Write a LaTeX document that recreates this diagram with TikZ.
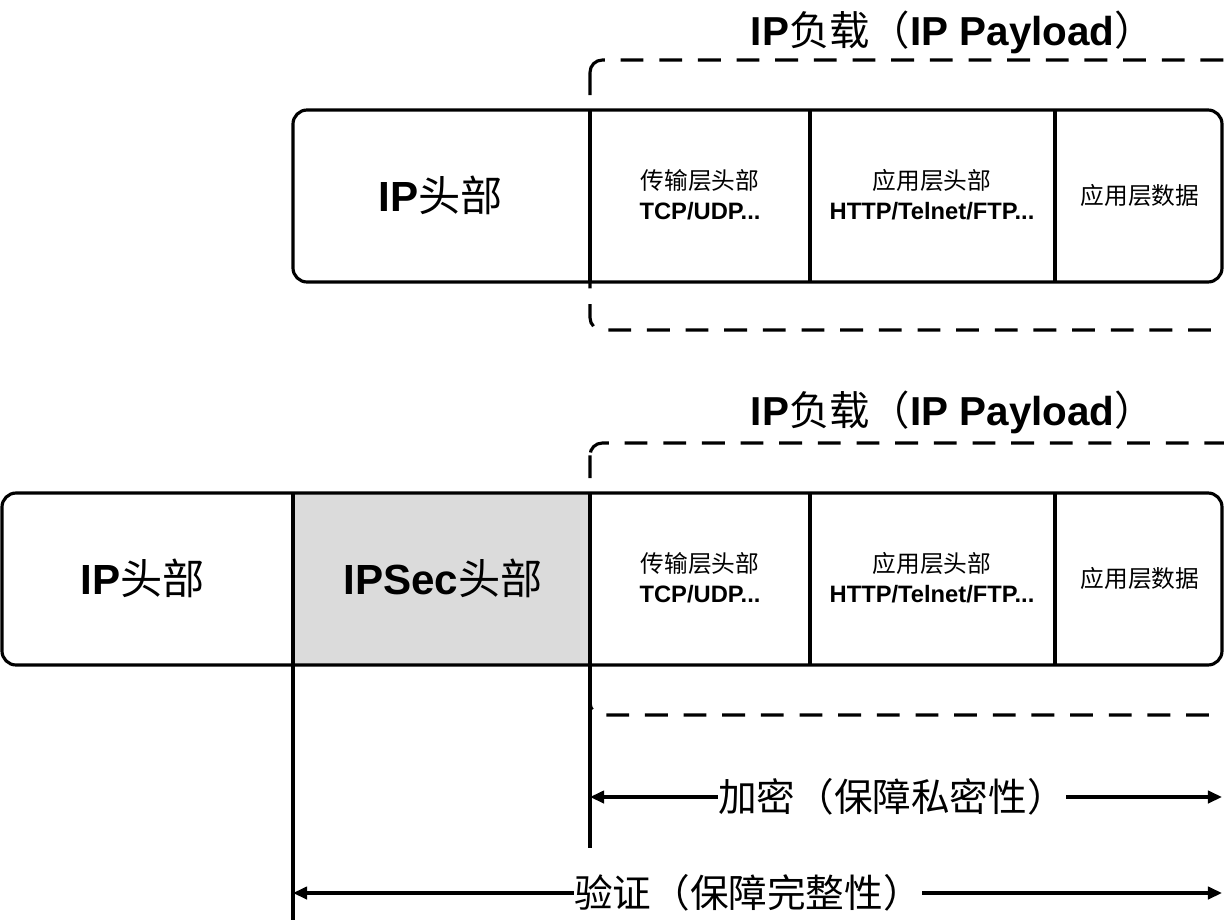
\documentclass[tikz,border=0pt]{standalone}
\usepackage{fontspec}
\setmainfont{Liberation Sans}
\newfontfamily\cjk{Noto Sans CJK SC}
\newcommand{\hz}[1]{{\cjk\mdseries #1}}
\usetikzlibrary{arrows.meta}
\tikzset{
  frame/.style={line width=1.8pt, rounded corners=8pt},
  divider/.style={line width=1.8pt},
  payload/.style={line width=1.8pt, dash pattern=on 13pt off 9pt, rounded corners=7pt},
  ttl/.style={font=\fontsize{23}{27}\selectfont\bfseries, inner sep=0pt},
  hdr/.style={font=\fontsize{24}{28}\selectfont\bfseries, inner sep=0pt},
  cell/.style={font=\fontsize{13.5}{17}\selectfont\bfseries, align=center, inner sep=0pt},
  spanlbl/.style={font=\cjk\fontsize{22}{26}\selectfont, inner sep=0pt},
  span/.style={line width=1.8pt, -{Triangle[length=8pt,width=7pt]}}
}
\begin{document}
\begin{tikzpicture}[x=0.02cm,y=-0.02cm]
\useasboundingbox (0,0) rectangle (1224,920);

% plain IP packet
\node[ttl] (ttlA) at (953,32) {IP\hz{负载（}IP Payload\hz{）}};
\draw[payload] (590,60) rectangle (1250,330);
\draw[frame] (293,110) rectangle (1222,282);
\foreach \x in {590,810,1055}
  \draw[divider] (\x,110) -- (\x,282);
\node[hdr] (ipA) at (441,195) {IP\hz{头部}};
\node[cell] (tcpA) at (700,195) {\hz{传输层头部}\\TCP/UDP...};
\node[cell] (httpA) at (932,195) {\hz{应用层头部}\\HTTP/Telnet/FTP...};
\node[cell] (dataA) at (1140,195) {\hz{应用层数据}};

% IPSec packet
\node[ttl] (ttlB) at (953,412) {IP\hz{负载（}IP Payload\hz{）}};
\draw[payload] (590,443) rectangle (1250,715);
\fill[black!14] (293,493) rectangle (590,665);
\draw[frame] (2,493) rectangle (1222,665);
\foreach \x in {293,590,810,1055}
  \draw[divider] (\x,493) -- (\x,665);
\node[hdr] (ipB) at (143,578) {IP\hz{头部}};
\node[hdr] (secB) at (443,578) {IPSec\hz{头部}};
\node[cell] (tcpB) at (700,578) {\hz{传输层头部}\\TCP/UDP...};
\node[cell] (httpB) at (932,578) {\hz{应用层头部}\\HTTP/Telnet/FTP...};
\node[cell] (dataB) at (1140,578) {\hz{应用层数据}};

% ranges
\draw[divider] (590,665) -- (590,848);
\draw[divider] (293,665) -- (293,920);

\node[spanlbl] (enc) at (892,797) {加密（保障私密性）};
\coordinate (encL) at (590,797);
\coordinate (encR) at (1222,797);
\draw[span] (enc.west) -- (encL);
\draw[span] (enc.east) -- (encR);

\node[spanlbl] (auth) at (748,893) {验证（保障完整性）};
\coordinate (authL) at (293,893);
\coordinate (authR) at (1222,893);
\draw[span] (auth.west) -- (authL);
\draw[span] (auth.east) -- (authR);
\end{tikzpicture}
\end{document}
